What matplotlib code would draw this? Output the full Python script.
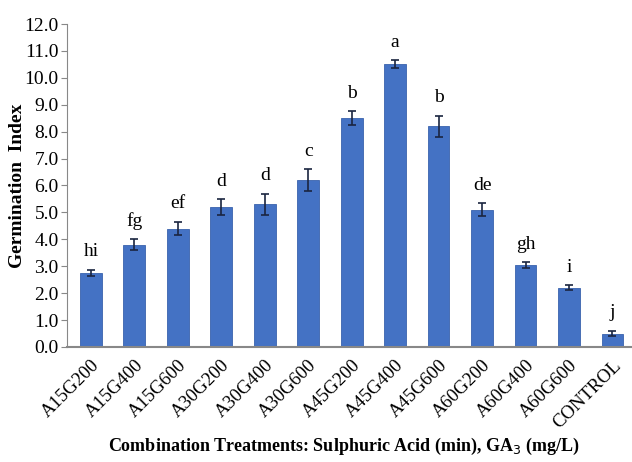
import matplotlib.pyplot as plt

plt.rcParams['font.family'] = ['Liberation Serif', 'DejaVu Serif']

# data
treatments = ['A15G200', 'A15G400', 'A15G600', 'A30G200', 'A30G400', 'A30G600',
              'A45G200', 'A45G400', 'A45G600', 'A60G200', 'A60G400', 'A60G600', 'CONTROL']
index_vals = [2.75, 3.8, 4.4, 5.2, 5.3, 6.2, 8.5, 10.5, 8.2, 5.1, 3.05, 2.2, 0.5]
errors = [0.12, 0.2, 0.25, 0.3, 0.4, 0.4, 0.25, 0.15, 0.4, 0.25, 0.1, 0.1, 0.1]
letters = ['hi', 'fg', 'ef', 'd', 'd', 'c', 'b', 'a', 'b', 'de', 'gh', 'i', 'j']

fig = plt.figure(figsize=(6.32, 4.62), dpi=100)
ax = fig.add_axes([0.106, 0.249, 0.894, 0.699])

x = range(len(treatments))
ax.bar(x, index_vals, width=0.5, color='#4472C4', edgecolor='#3a63ad', linewidth=0.6,
       yerr=errors, capsize=3, error_kw=dict(ecolor='#1a2540', elinewidth=1.2, capthick=1.2))

# significance letters
for i, (v, e, lt) in enumerate(zip(index_vals, errors, letters)):
    ax.text(i, v + e + 0.35, lt, ha='center', va='bottom', fontsize=14)

ax.set_ylim(0, 12)
ax.set_yticks([i for i in range(13)])
ax.set_yticklabels([f'{i:.1f}' for i in range(13)], fontsize=14)
ax.set_xlim(-0.55, 12.45)
ax.set_xticks(list(x))
ax.set_xticklabels(treatments, rotation=45, ha='right', rotation_mode='anchor', fontsize=13.5)
ax.tick_params(axis='x', length=0, pad=7)
ax.tick_params(axis='y', length=4, color='#888888', pad=2)

for s in ['top', 'right']:
    ax.spines[s].set_visible(False)
ax.spines['left'].set_color('#888888')
ax.spines['bottom'].set_color('#888888')
ax.spines['bottom'].set_linewidth(1.5)

ax.set_ylabel('Germination  Index', fontsize=14, fontweight='bold')
ax.yaxis.set_label_coords(-0.072, 0.5)
ax.set_xlabel('Combination Treatments: Sulphuric Acid (min), GA$_3$ (mg/L)',
              fontsize=13, fontweight='bold')
ax.xaxis.set_label_coords(0.49, -0.275)

fig.savefig('out.png', dpi=100)
